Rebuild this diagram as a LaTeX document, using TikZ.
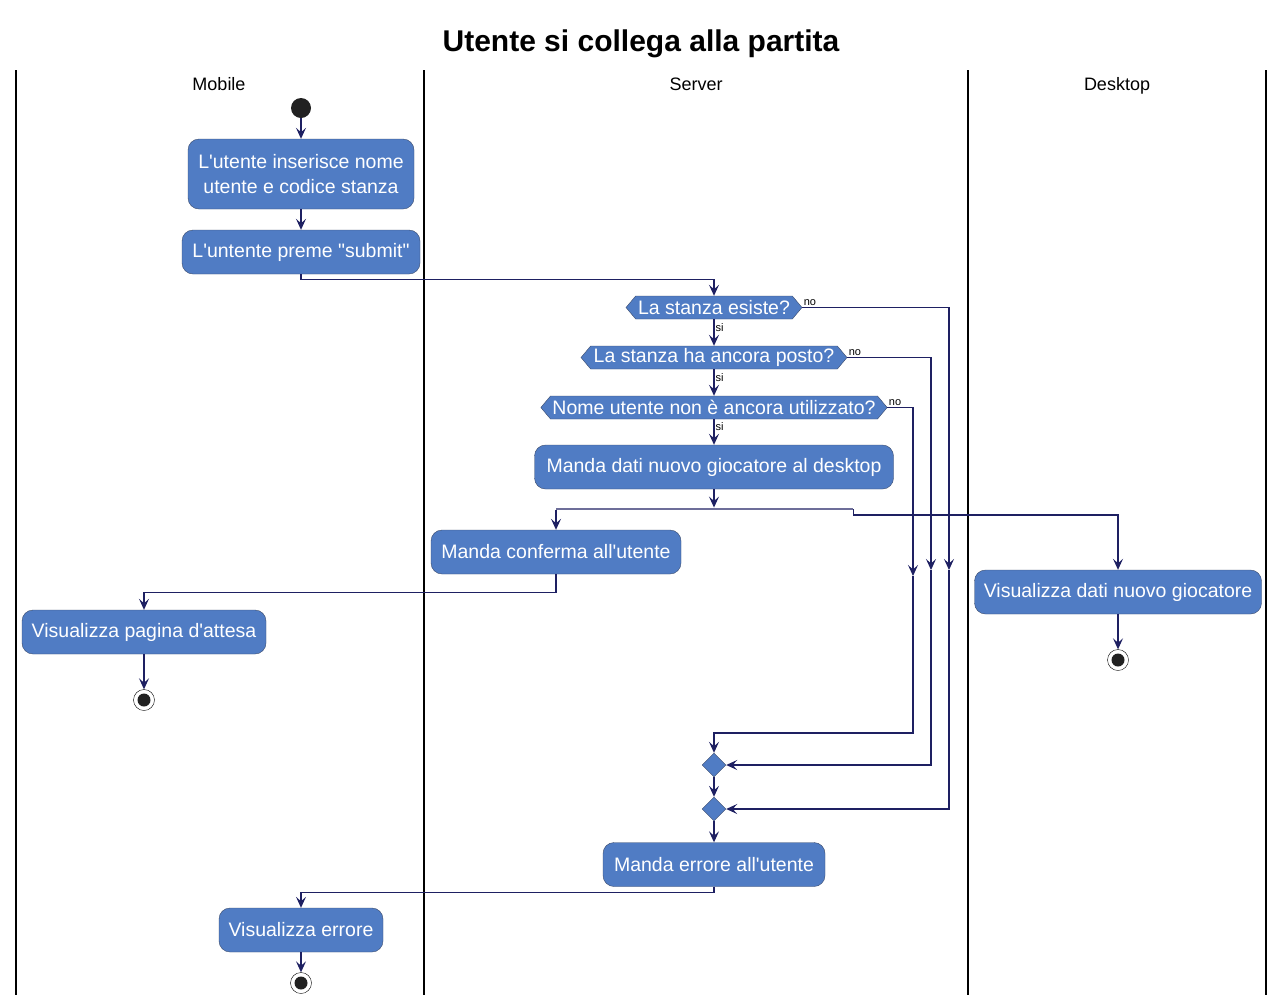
\documentclass[tikz,border=0pt]{standalone}
\usepackage{fontspec}
\setmainfont{Liberation Sans}
\usepackage{tikz}
\usetikzlibrary{positioning}
\usetikzlibrary{arrows.meta}
\usetikzlibrary{shapes.geometric}
\usetikzlibrary{shapes.symbols}
\definecolor{actfill}{HTML}{507CC4}
\definecolor{actline}{HTML}{3B4B6B}
\definecolor{flow}{HTML}{1E2062}
\newcommand{\apos}{\textquotesingle}

\begin{document}
\begin{tikzpicture}[x=1pt,y=-1pt,every node/.style={align=center},
  action/.style={draw=actline,fill=actfill,text=white,rounded corners=11pt,minimum height=44pt,inner xsep=0pt,font=\fontsize{19.5}{25}\selectfont},
  decision/.style={draw=actline,fill=actfill,text=white,shape=signal,signal to=west and east,signal pointer angle=100,minimum height=23pt,inner ysep=0pt,inner xsep=2pt,font=\fontsize{19.5}{23}\selectfont},
  merge/.style={draw=actline,fill=actfill,diamond,minimum size=24pt,inner sep=0pt},
  startnode/.style={circle,fill=black!87,minimum size=20pt,inner sep=0pt},
  endnode/.style={circle,draw=black,fill=white,minimum size=21pt,inner sep=0pt,path picture={\fill[black!87] (path picture bounding box.center) circle (6.5pt);}},
  lane/.style={line width=1.5pt},
  lanetitle/.style={font=\fontsize{18}{22}\selectfont,anchor=base},
  guard/.style={font=\fontsize{11}{12}\selectfont,inner sep=1pt},
  flowline/.style={draw=flow,line width=1.1pt,-{Stealth[length=11pt,width=10pt,inset=4.5pt]}}]
\useasboundingbox (0,0) rectangle (1284,1005);
\node[font=\bfseries\fontsize{30}{34}\selectfont,anchor=base] (title) at (641,51) {Utente si collega alla partita};
% swimlanes
\draw[lane] (16,70) -- (16,995);
\draw[lane] (424,70) -- (424,995);
\draw[lane] (968,70) -- (968,995);
\draw[lane] (1266,70) -- (1266,995);
\node[lanetitle] (mobile) at (219,90) {Mobile};
\node[lanetitle] (server) at (696,90) {Server};
\node[lanetitle] (desktop) at (1117,90) {Desktop};
% nodes
\node[startnode] (start) at (301,108) {};
\node[action,minimum width=226pt,minimum height=70pt] (insert) at (301,174) {L\apos utente inserisce nome\\utente e codice stanza};
\node[action,minimum width=238pt] (submit) at (301,252) {L\apos untente preme \textquotedbl submit\textquotedbl};
\node[decision,minimum width=176pt] (exists) at (714,307.5) {La stanza esiste?};
\node[decision,minimum width=266pt] (room) at (714,357.5) {La stanza ha ancora posto?};
\node[decision,minimum width=344pt] (name) at (714,407.5) {Nome utente non è ancora utilizzato?};
\node[action,minimum width=359pt] (senddata) at (714,467) {Manda dati nuovo giocatore al desktop};
\node[rectangle,fill=flow!65!white,minimum width=297pt,minimum height=2.5pt,inner sep=0pt] (forkbar) at (704.5,509) {};
\node[action,minimum width=250pt] (confirm) at (556,552) {Manda conferma all\apos utente};
\node[action,minimum width=244pt] (wait) at (144,632) {Visualizza pagina d\apos attesa};
\node[endnode] (endwait) at (144,700) {};
\node[action,minimum width=287pt] (show) at (1118,592) {Visualizza dati nuovo giocatore};
\node[endnode] (endshow) at (1118,660) {};
\node[merge] (mergeA) at (714,765) {};
\node[merge] (mergeB) at (714,809) {};
\node[action,minimum width=222pt] (senderr) at (714,864.5) {Manda errore all\apos utente};
\node[action,minimum width=164pt] (showerr) at (301,930) {Visualizza errore};
\node[endnode] (enderr) at (301,983) {};
\coordinate (noA) at (949,570);
\coordinate (noB) at (931,570);
\coordinate (noC) at (913,576);
% connectors
\draw[flowline] (start) -- (insert);
\draw[flowline] (insert) -- (submit);
\draw[flowline] (submit.south) -- ++(0,5) -| (exists.north);
\draw[flowline] (exists.south) -- node[guard,pos=0.3,right] {si} (room.north);
\draw[flowline] (room.south) -- node[guard,pos=0.3,right] {si} (name.north);
\draw[flowline] (name.south) -- node[guard,pos=0.3,right] {si} (senddata.north);
\draw[flowline] (exists.east) node[guard,anchor=south west] {no} -| (noA);
\draw[flowline] (room.east) node[guard,anchor=south west] {no} -| (noB);
\draw[flowline] (name.east) node[guard,anchor=south west] {no} -| (noC);
\draw[flowline] (noC) -- ++(0,157) -| (mergeA.north);
\draw[flowline] (noB) |- (mergeA.east);
\draw[flowline] (noA) |- (mergeB.east);
\draw[flowline] (mergeA.south) -- (mergeB.north);
\draw[flowline] (mergeB.south) -- (senderr.north);
\draw[flowline] (senderr.south) -- ++(0,6) -| (showerr.north);
\draw[flowline] (showerr) -- (enderr);
\draw[flowline] (senddata.south) -- (senddata.south |- forkbar.north);
\draw[flowline] (forkbar.south -| confirm.north) -- (confirm.north);
\draw[flowline] (forkbar.east) -- ++(0,6) -| (show.north);
\draw[flowline] (confirm.south) -- ++(0,18) -| (wait.north);
\draw[flowline] (wait) -- (endwait);
\draw[flowline] (show) -- (endshow);
\end{tikzpicture}
\end{document}
